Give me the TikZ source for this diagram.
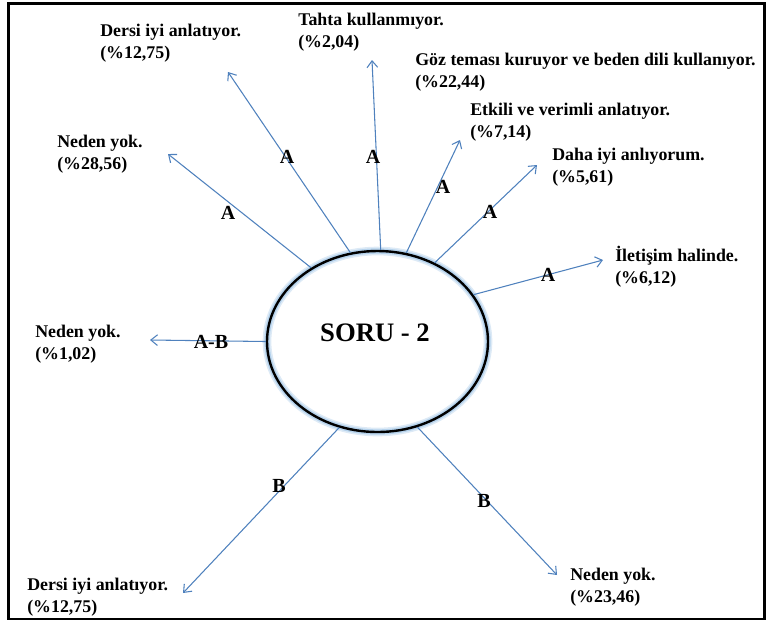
\documentclass[tikz,border=0pt]{standalone}
\usepackage{fontspec}
\setmainfont{Liberation Serif}
\usetikzlibrary{arrows.meta}
\usetikzlibrary{shapes.geometric}
\definecolor{linkblue}{RGB}{79,129,189}
\definecolor{glowblue}{RGB}{157,195,230}

\begin{document}
\begin{tikzpicture}[x=0.75pt, y=-0.75pt, >={Straight Barb[length=5pt,width=8pt]},
  txt/.style={font=\fontsize{13.4}{16.5}\selectfont\bfseries, align=left, anchor=north west, inner sep=0pt},
  tag/.style={font=\fontsize{15}{17}\selectfont\bfseries, inner sep=0pt},
  link/.style={->, draw=linkblue, line width=0.8pt}]
\useasboundingbox (0,0) rectangle (766,626);
\draw[line width=2pt] (8.5,3.5) rectangle (764.5,619);
% central question
\node[draw, ellipse, line width=1.8pt, minimum width=165.75pt, minimum height=135.75pt,
  preaction={draw=glowblue!35, line width=6.5pt},
  preaction={draw=glowblue!75, line width=4pt}] (soru) at (377.5,341.5) {};
\node[font=\fontsize{20}{24}\selectfont\bfseries, inner sep=0pt] (title) at (375,333) {SORU - 2};
% answers
\node[txt] (n1) at (57,135) {Neden yok.\\(\%28,56)};
\node[txt] (n2) at (100,24) {Dersi iyi anlatıyor.\\(\%12,75)};
\node[txt] (n3) at (298,13) {Tahta kullanmıyor.\\(\%2,04)};
\node[txt] (n4) at (415,53) {Göz teması kuruyor ve beden dili kullanıyor.\\(\%22,44)};
\node[txt] (n5) at (470,103) {Etkili ve verimli anlatıyor.\\(\%7,14)};
\node[txt] (n6) at (552,148) {Daha iyi anlıyorum.\\(\%5,61)};
\node[txt] (n7) at (615,246) {İletişim halinde.\\(\%6,12)};
\node[txt] (n8) at (35,325) {Neden yok.\\(\%1,02)};
\node[txt] (n9) at (27,578) {Dersi iyi anlatıyor.\\(\%12,75)};
\node[txt] (n10) at (570,568) {Neden yok.\\(\%23,46)};
% arrow ends
\coordinate (e1) at (168,154);
\coordinate (e2) at (228,72);
\coordinate (e3) at (372,60);
\coordinate (e4) at (460,140);
\coordinate (e5) at (537,165);
\coordinate (e6) at (603,260);
\coordinate (e7) at (150,340);
\coordinate (e8) at (183,593);
\coordinate (e9) at (557,575);
\draw[link] (soru.132) -- (e1);
\draw[link] (soru.107) -- (e2);
\draw[link] (soru.88) -- (e3);
\draw[link] (soru.72) -- (e4);
\draw[link] (soru.54) -- (e5);
\draw[link] (soru.26) -- (e6);
\draw[link] (soru.180) -- (e7);
\draw[link] (soru.246) -- (e8);
\draw[link] (soru.295) -- (e9);
% groups
\node[tag] (a1) at (228,213) {A};
\node[tag] (a2) at (287,157) {A};
\node[tag] (a3) at (373,157) {A};
\node[tag] (a4) at (443,187) {A};
\node[tag] (a5) at (490,212) {A};
\node[tag] (a6) at (548,275) {A};
\node[tag] (ab) at (211,342) {A-B};
\node[tag] (b1) at (279,486) {B};
\node[tag] (b2) at (484,501) {B};
\end{tikzpicture}
\end{document}
